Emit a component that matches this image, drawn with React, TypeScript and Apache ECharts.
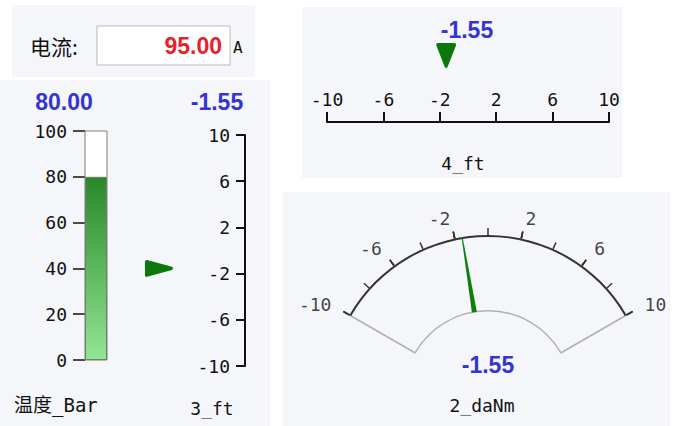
import React, { useEffect, useRef } from 'react';
import * as echarts from 'echarts';

// ---------- data ----------
const currentLabel = '电流:';
const currentValue = 95.0;
const currentUnit = 'A';

const barName = '温度_Bar';
const barValue = 80.0;
const barMin = 0;
const barMax = 100;
const barInterval = 20;

const vScaleName = '3_ft';
const vScaleValue = -1.55;

const hScaleName = '4_ft';
const hScaleValue = -1.55;

const scaleMin = -10;
const scaleMax = 10;
const scaleInterval = 4;

const gaugeName = '2_daNm';
const gaugeValue = -1.55;
const gaugeTickLabels = [-10, -6, -2, 2, 6, 10];

// ---------- styles ----------
const MONO = "'DejaVu Sans Mono', 'Noto Sans CJK SC', monospace";
const CJK = "'Noto Sans CJK SC', sans-serif";
const BOLD = "'Liberation Sans', Arial, sans-serif";
const BLUE = '#3434d6';
const RED = '#e8222b';
const INK = '#111111';
const PANEL = '#f4f6fa';
const GREEN = '#0a780a';

const GC: [number, number] = [488, 395];
const GR = 160;
const GR0 = 84;
const LABEL_R = 1.13;

const downMarker = 'path://M0 2 Q0 0 2 0 L18 0 Q20 0 20 2 L11.5 23.5 Q10 26 8.5 23.5 Z';
const rightMarker = 'path://M0 2 Q0 0 2 0.4 L26 7 Q28 8.5 26 10 L2 16.6 Q0 17 0 15 Z';

export default function App() {
  const ref = useRef<HTMLDivElement>(null);
  useEffect(() => {
    if (!ref.current) return;
    const chart = echarts.init(ref.current, null, { renderer: 'svg' });
    const tickLabel = { fontFamily: MONO, fontSize: 18, color: INK };
    const axisLineStyle = { color: INK, width: 2 };

    const text = (t: string, x: number, y: number, font: any, align = 'center') => ({
      type: 'text',
      x,
      y,
      z: 5,
      style: { text: t, align, verticalAlign: 'middle', ...font },
    });

    const option: any = {
      animation: false,
      backgroundColor: '#ffffff',
      graphic: [
        { type: 'rect', z: -10, shape: { x: 12, y: 5, width: 243, height: 72 }, style: { fill: PANEL } },
        { type: 'rect', z: -10, shape: { x: 0, y: 80, width: 270, height: 346 }, style: { fill: PANEL } },
        { type: 'rect', z: -10, shape: { x: 302, y: 7, width: 320, height: 171 }, style: { fill: PANEL } },
        { type: 'rect', z: -10, shape: { x: 283, y: 192, width: 387, height: 234 }, style: { fill: PANEL } },
        { type: 'rect', z: 1, shape: { x: 97, y: 26, width: 133, height: 39 }, style: { fill: '#ffffff', stroke: '#b9b9b9', lineWidth: 1 } },
        text(currentLabel, 30, 46, { fontFamily: CJK, fontSize: 21, fill: INK }, 'left'),
        text(currentValue.toFixed(2), 222, 46, { fontFamily: BOLD, fontWeight: 'bold', fontSize: 23, fill: RED }, 'right'),
        text(currentUnit, 233, 47, { fontFamily: MONO, fontSize: 16, fill: INK }, 'left'),
        text(barValue.toFixed(2), 64, 102, { fontFamily: BOLD, fontWeight: 'bold', fontSize: 23, fill: BLUE }),
        text(vScaleValue.toFixed(2), 217, 102, { fontFamily: BOLD, fontWeight: 'bold', fontSize: 23, fill: BLUE }),
        text(hScaleValue.toFixed(2), 467, 30, { fontFamily: BOLD, fontWeight: 'bold', fontSize: 23, fill: BLUE }),
        text(barName, 14, 405, { fontFamily: MONO, fontSize: 19, fill: INK }, 'left'),
        text(vScaleName, 212, 408, { fontFamily: MONO, fontSize: 18, fill: INK }),
        text(hScaleName, 463, 163, { fontFamily: MONO, fontSize: 18, fill: INK }),
      ],
      grid: [
        { left: 85, top: 131, width: 22, height: 229 },
        { left: 245, top: 135, width: 10, height: 231 },
        { left: 145, top: 135, width: 28, height: 231 },
        { left: 327, top: 122, width: 282, height: 10 },
        { left: 327, top: 43, width: 282, height: 25 },
      ],
      xAxis: [
        { gridIndex: 0, type: 'category', data: [barName], show: false },
        { gridIndex: 1, type: 'value', show: false },
        { gridIndex: 2, type: 'category', data: [vScaleName], show: false },
        {
          gridIndex: 3, type: 'value', position: 'top', min: scaleMin, max: scaleMax, interval: scaleInterval,
          axisLine: { show: true, lineStyle: axisLineStyle },
          axisTick: { show: true, length: 10, lineStyle: axisLineStyle },
          axisLabel: { ...tickLabel, margin: 14 },
          splitLine: { show: false },
        },
        { gridIndex: 4, type: 'value', min: scaleMin, max: scaleMax, show: false },
      ],
      yAxis: [
        {
          gridIndex: 0, type: 'value', min: barMin, max: barMax, interval: barInterval,
          axisLine: { show: false },
          axisTick: { show: true, length: 12, lineStyle: { color: INK, width: 1.5 } },
          axisLabel: { ...tickLabel, margin: 18 },
          splitLine: { show: false },
        },
        {
          gridIndex: 1, type: 'value', min: scaleMin, max: scaleMax, interval: scaleInterval,
          axisLine: { show: true, lineStyle: axisLineStyle },
          axisTick: { show: true, length: 9, lineStyle: axisLineStyle },
          axisLabel: { ...tickLabel, margin: 15 },
          splitLine: { show: false },
        },
        { gridIndex: 2, type: 'value', min: scaleMin, max: scaleMax, show: false },
        { gridIndex: 3, type: 'category', data: [hScaleName], show: false },
        { gridIndex: 4, type: 'category', data: [hScaleName], show: false },
      ],
      polar: { center: GC, radius: GR },
      angleAxis: { type: 'value', startAngle: 150, endAngle: 30, min: scaleMin, max: scaleMax, show: false },
      radiusAxis: { type: 'value', min: 0, max: 1, show: false },
      series: [
        {
          type: 'bar', xAxisIndex: 0, yAxisIndex: 0, barWidth: '100%',
          data: [barValue],
          showBackground: true,
          backgroundStyle: { color: '#ffffff', borderColor: '#7d7d7d', borderWidth: 1 },
          itemStyle: {
            borderColor: '#6f7f6f', borderWidth: 1,
            color: new echarts.graphic.LinearGradient(0, 0, 0, 1, [
              { offset: 0, color: '#288828' },
              { offset: 1, color: '#92e592' },
            ]),
          },
        },
        {
          type: 'scatter', xAxisIndex: 2, yAxisIndex: 2,
          data: [[vScaleName, vScaleValue]],
          symbol: rightMarker, symbolSize: [28, 17],
          itemStyle: { color: GREEN, opacity: 1 },
        },
        {
          type: 'scatter', xAxisIndex: 4, yAxisIndex: 4,
          data: [[hScaleValue, hScaleName]],
          symbol: downMarker, symbolSize: [20, 25],
          itemStyle: { color: GREEN, opacity: 1 },
        },
        {
          type: 'gauge', center: GC, radius: GR, startAngle: 150, endAngle: 30,
          min: scaleMin, max: scaleMax, splitNumber: 1,
          axisLine: { show: false, lineStyle: { width: 0 } },
          splitLine: { show: true, length: GR - GR0, distance: 0, lineStyle: { color: '#b0b0b0', width: 1.5 } },
          axisTick: { show: false }, axisLabel: { show: false },
          pointer: { show: false }, anchor: { show: false }, title: { show: false }, detail: { show: false },
          data: [{ value: gaugeValue }],
        },
        {
          type: 'gauge', center: GC, radius: GR0 + 1, startAngle: 150, endAngle: 30,
          min: scaleMin, max: scaleMax,
          axisLine: { show: true, lineStyle: { width: 1.5, color: [[1, '#b0b0b0']] } },
          splitLine: { show: false }, axisTick: { show: false }, axisLabel: { show: false },
          pointer: { show: false }, anchor: { show: false }, title: { show: false }, detail: { show: false },
          data: [{ value: gaugeValue }],
        },
        {
          type: 'gauge', center: GC, radius: GR, startAngle: 150, endAngle: 30,
          min: scaleMin, max: scaleMax, splitNumber: 5,
          axisLine: { show: true, lineStyle: { width: 2, color: [[1, '#333333']] } },
          splitLine: { show: true, length: 7, distance: -9, lineStyle: { color: '#333333', width: 1.5 } },
          axisTick: { show: true, splitNumber: 2, length: 7, distance: -9, lineStyle: { color: '#333333', width: 1.5 } },
          axisLabel: { show: false },
          pointer: {
            show: true, icon: 'path://M1.6 0 L2.4 0 L4 100 L0 100 Z',
            length: GR - GR0, width: 5, offsetCenter: [0, -GR0],
            itemStyle: { color: '#0d7f0d' },
          },
          anchor: { show: false },
          title: { show: true, offsetCenter: [-6, 10], fontFamily: MONO, fontSize: 18, color: INK },
          detail: {
            show: true, offsetCenter: [0, -30], formatter: (v: number) => v.toFixed(2),
            fontFamily: BOLD, fontWeight: 'bold', fontSize: 23, color: BLUE,
          },
          data: [{ value: gaugeValue, name: gaugeName }],
        },
        {
          type: 'scatter', coordinateSystem: 'polar', clip: false, symbolSize: 0,
          data: gaugeTickLabels.map((v) => ({ value: [LABEL_R, v], label: { position: v < 0 ? 'left' : 'right' } })),
          label: {
            show: true, distance: 0,
            formatter: (p: any) => String(p.value[1]),
            ...tickLabel,
          },
        },
      ],
    };
    chart.setOption(option);
    return () => chart.dispose();
  }, []);
  return <div ref={ref} style={{ position: 'absolute', left: 0, top: 0, width: 678, height: 426 }} />;
}
